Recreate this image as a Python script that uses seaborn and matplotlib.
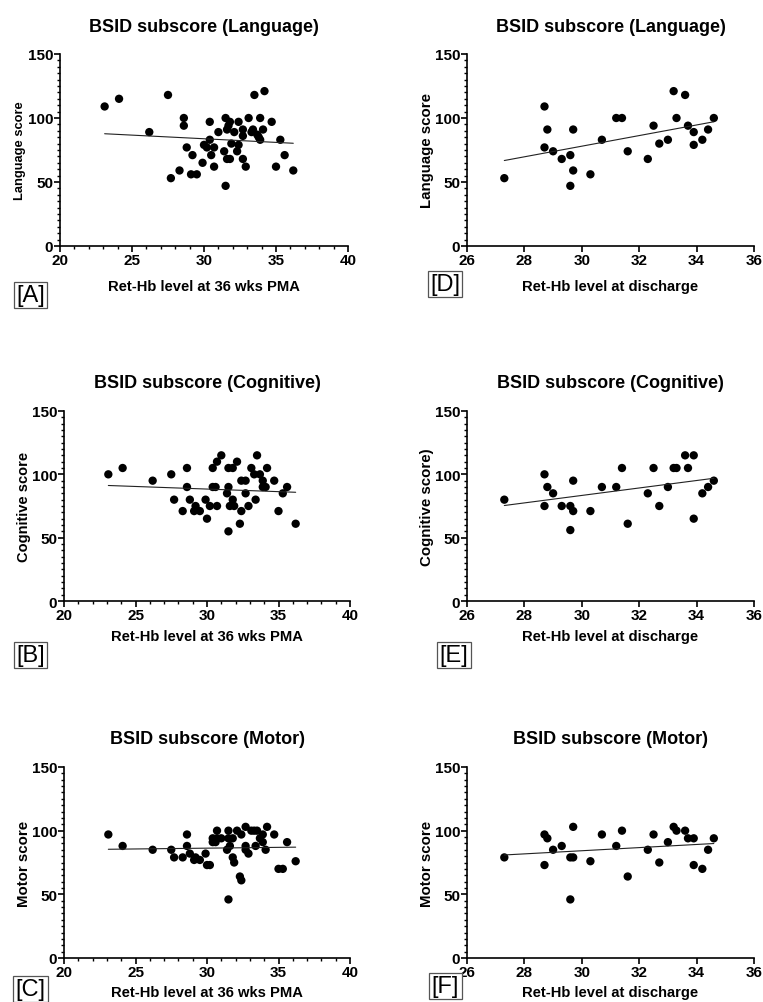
import numpy as np
import pandas as pd
import matplotlib
matplotlib.use("Agg")
import matplotlib.pyplot as plt
from matplotlib.ticker import MultipleLocator
import seaborn as sns

sns.set_theme(style="ticks")
plt.rcParams["font.family"] = ["Liberation Sans", "DejaVu Sans"]
plt.rcParams["font.weight"] = "bold"
for key in ("text.color", "axes.labelcolor", "xtick.color", "ytick.color",
            "axes.edgecolor"):
    plt.rcParams[key] = "black"

# Ret-Hb at 36 weeks PMA vs BSID subscores
pma_lang_x = [23.1, 24.1, 26.2, 27.5, 27.7, 28.3, 28.6, 28.6, 28.8, 29.1, 29.2, 29.5,
              29.9, 30.0, 30.2, 30.4, 30.4, 30.5, 30.7, 30.7, 31.0, 31.4, 31.5, 31.5,
              31.6, 31.6, 31.8, 31.8, 31.7, 31.9, 32.1, 32.3, 32.4, 32.4, 32.7, 32.7,
              32.7, 32.9, 33.1, 33.3, 33.4, 33.5, 33.7, 33.9, 33.9, 34.1, 34.2, 34.7,
              35.0, 35.3, 35.6, 36.2, 33.8]
pma_lang_y = [109, 115, 89, 118, 53, 59, 100, 94, 77, 56, 71, 56,
              65, 79, 77, 97, 83, 71, 77, 62, 89, 74, 100, 47,
              91, 68, 97, 68, 94, 80, 89, 74, 97, 79, 91, 86,
              68, 62, 100, 89, 91, 118, 87, 100, 83, 91, 121, 97,
              62, 83, 71, 59, 85]

pma_cog_x = [23.1, 24.1, 26.2, 27.5, 27.7, 28.3, 28.6, 28.6, 28.8, 29.2, 29.1, 29.5,
             29.9, 30.0, 30.2, 30.4, 30.4, 30.6, 30.7, 30.7, 31.0, 31.4, 31.5, 31.5,
             31.5, 31.6, 31.8, 31.8, 31.9, 32.1, 32.3, 32.4, 32.4, 32.7, 32.7, 32.9,
             33.1, 33.3, 33.4, 33.5, 33.7, 33.9, 33.9, 34.1, 34.2, 34.7, 35.0, 35.3,
             35.6, 36.2]
pma_cog_y = [100, 105, 95, 100, 80, 71, 105, 90, 80, 75, 71, 71,
             80, 65, 75, 105, 90, 90, 110, 75, 115, 85, 105, 90,
             55, 75, 105, 80, 75, 110, 61, 95, 71, 95, 85, 75,
             105, 100, 80, 115, 100, 95, 90, 90, 105, 95, 71, 85,
             90, 61]

pma_mot_x = [23.1, 24.1, 26.2, 27.5, 27.7, 28.3, 28.6, 28.6, 28.8, 29.1, 29.2, 29.5,
             29.9, 30.0, 30.2, 30.4, 30.4, 30.6, 30.7, 30.7, 31.0, 31.4, 31.5, 31.5,
             31.5, 31.6, 31.8, 31.8, 31.9, 32.1, 32.3, 32.4, 32.4, 32.7, 32.7, 32.7,
             32.9, 33.1, 33.3, 33.4, 33.5, 33.7, 33.9, 33.9, 34.1, 34.2, 34.7, 35.0,
             35.3, 35.6, 36.2]
pma_mot_y = [97, 88, 85, 85, 79, 79, 97, 88, 82, 77, 79, 77,
             82, 73, 73, 94, 91, 91, 100, 94, 94, 85, 100, 94,
             46, 88, 94, 79, 75, 100, 64, 61, 97, 103, 88, 85,
             82, 100, 100, 88, 100, 94, 97, 91, 85, 103, 97, 70,
             70, 91, 76]

# Ret-Hb at discharge vs BSID subscores
dis_x = [27.3, 28.7, 28.7, 28.8, 29.0, 29.3, 29.6, 29.6, 29.7, 29.7, 30.3, 30.7,
         31.2, 31.4, 31.6, 32.3, 32.5, 32.7, 33.0, 33.2, 33.3, 33.6, 33.7, 33.9,
         33.9, 34.2, 34.4, 34.6]
dis_lang_y = [53, 109, 77, 91, 74, 68, 71, 47, 91, 59, 56, 83,
              100, 100, 74, 68, 94, 80, 83, 121, 100, 118, 94, 89,
              79, 83, 91, 100]
dis_cog_x = [27.3, 28.7, 28.7, 28.8, 29.0, 29.3, 29.6, 29.6, 29.7, 29.7, 30.3, 30.7,
             31.2, 31.4, 31.6, 32.3, 32.5, 32.7, 33.0, 33.2, 33.3, 33.6, 33.7, 33.9,
             33.9, 34.2, 34.4, 34.6]
dis_cog_y = [80, 100, 75, 90, 85, 75, 75, 56, 95, 71, 71, 90,
             90, 105, 61, 85, 105, 75, 90, 105, 105, 115, 105, 115,
             65, 85, 90, 95]
dis_mot_y = [79, 97, 73, 94, 85, 88, 79, 46, 103, 79, 76, 97,
             88, 100, 64, 85, 97, 75, 91, 103, 100, 100, 94, 94,
             73, 70, 85, 94]

W, H = 763, 1003
fig = plt.figure(figsize=(W / 100, H / 100), dpi=100)

# (x, y, xlabel, ylabel, ylabel size, title, tag, axes box px, tag centre px,
#  x range, x major, x minor, xlabel gap px)
panels = [
    (pma_lang_x, pma_lang_y, "Ret-Hb level at 36 wks PMA", "Language score", 9.3,
     "BSID subscore (Language)", "[A]", (60, 55, 348, 247), (30.5, 296), (20, 40), 5, 1, 40),
    (pma_cog_x, pma_cog_y, "Ret-Hb level at 36 wks PMA", "Cognitive score", 10.5,
     "BSID subscore (Cognitive)", "[B]", (64, 412, 350, 602), (30.5, 656), (20, 40), 5, 1, 35),
    (pma_mot_x, pma_mot_y, "Ret-Hb level at 36 wks PMA", "Motor score", 10.8,
     "BSID subscore (Motor)", "[C]", (64, 768, 350, 959), (30.5, 990), (20, 40), 5, 1, 34),
    (dis_x, dis_lang_y, "Ret-Hb level at discharge", "Language score", 10.8,
     "BSID subscore (Language)", "[D]", (467, 55, 754, 247), (445, 285), (26, 36), 2, None, 40),
    (dis_cog_x, dis_cog_y, "Ret-Hb level at discharge", "Cognitive score)", 10.8,
     "BSID subscore (Cognitive)", "[E]", (467, 412, 754, 602), (454, 656), (26, 36), 2, None, 35),
    (dis_x, dis_mot_y, "Ret-Hb level at discharge", "Motor score", 10.8,
     "BSID subscore (Motor)", "[F]", (467, 768, 754, 959), (445.5, 987), (26, 36), 2, None, 34),
]

for (xs, ys, xl, yl, yls, title, tag, box, tagpos, xr, xmaj, xmin, xgap) in panels:
    l, t, r, b = box
    ax = fig.add_axes([l / W, 1 - b / H, (r - l) / W, (b - t) / H])
    df = pd.DataFrame({"x": xs, "y": ys})
    sns.regplot(data=df, x="x", y="y", ax=ax, ci=None, color="black",
                scatter_kws={"s": 36, "edgecolor": "none", "alpha": 1},
                line_kws={"linewidth": 0.8, "color": "#222222"})
    ax.set_xlim(*xr)
    ax.set_ylim(0, 150)
    ax.xaxis.set_major_locator(MultipleLocator(xmaj))
    if xmin:
        ax.xaxis.set_minor_locator(MultipleLocator(xmin))
    ax.yaxis.set_major_locator(MultipleLocator(50))
    ax.yaxis.set_minor_locator(MultipleLocator(5))
    for s in ("top", "right"):
        ax.spines[s].set_visible(False)
    for s in ("left", "bottom"):
        ax.spines[s].set_linewidth(1.2)
        ax.spines[s].set_color("black")
    ax.tick_params(which="major", length=4, width=1.2, color="black", pad=1,
                   labelsize=11, labelcolor="black")
    ax.tick_params(which="minor", length=2.5, width=1.0, color="black")
    ph = b - t
    pw = r - l
    ax.set_title(title, fontsize=13, fontweight="bold", y=1 + 28 / ph, pad=0,
                 va="center", color="black")
    ax.set_xlabel(xl, fontsize=10.6, fontweight="bold", va="center")
    ax.xaxis.set_label_coords(0.5, -xgap / ph)
    ax.set_ylabel(yl, fontsize=yls, fontweight="bold", va="center")
    ax.yaxis.set_label_coords(-40 / pw, 0.5)
    fig.text(tagpos[0] / W, 1 - tagpos[1] / H, tag, fontsize=17,
             fontweight="normal", ha="center", va="center",
             bbox=dict(boxstyle="square,pad=0.1", facecolor="white",
                       edgecolor="#555555", linewidth=0.9))

fig.savefig("out.png", dpi=100, facecolor="white")
